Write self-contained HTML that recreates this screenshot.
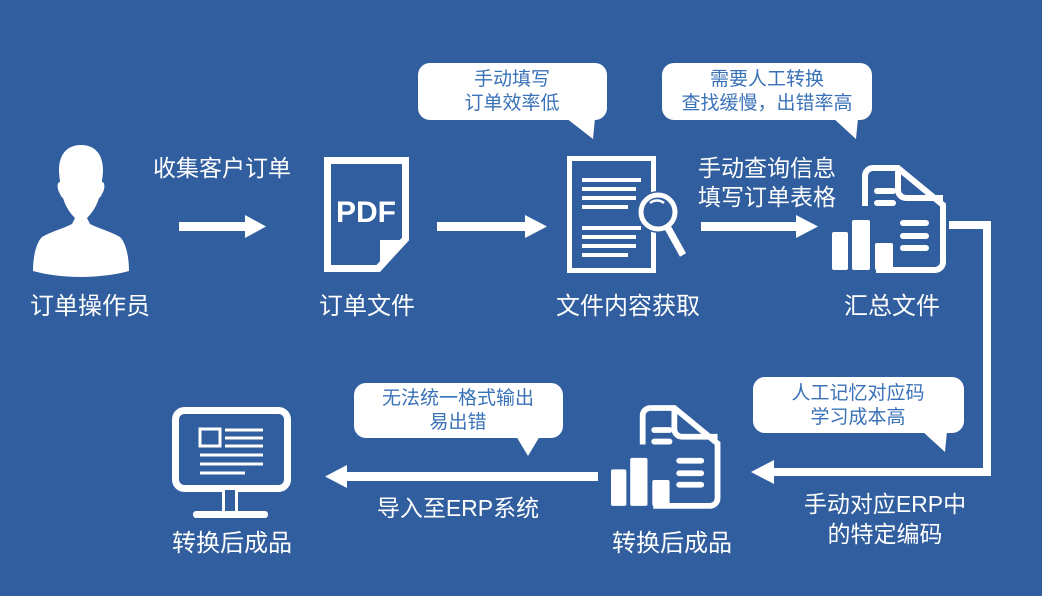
<!DOCTYPE html>
<html><head><meta charset="utf-8"><style>
html,body{margin:0;padding:0;background:#315E9F;}
svg{display:block}
text{font-family:"Liberation Sans","Noto Sans CJK SC",sans-serif;}
</style></head><body>
<svg width="1042" height="596" viewBox="0 0 1042 596" xmlns="http://www.w3.org/2000/svg">
<rect width="1042" height="596" fill="#315E9F"/>
<defs>
<g id="sum">
  <path d="M873,168 H898 L943,205 V262 a8,8 0 0 1 -8,8 H876" fill="none" stroke="#fff" stroke-width="6"/>
  <path d="M873,168 a8,8 0 0 0 -8,8 V206" fill="none" stroke="#fff" stroke-width="6"/>
  <path d="M898,168 V190 a8,8 0 0 0 8,8 H943" fill="none" stroke="#fff" stroke-width="6"/>
  <g stroke="#fff" stroke-width="6" stroke-linecap="round">
    <line x1="877" y1="191" x2="893" y2="191"/><line x1="877" y1="203" x2="893" y2="203"/>
    <line x1="903" y1="223" x2="926" y2="223"/><line x1="903" y1="236" x2="926" y2="236"/><line x1="903" y1="248" x2="926" y2="248"/>
  </g>
  <rect x="832" y="232" width="16" height="38" rx="2" fill="#fff"/>
  <rect x="852" y="220" width="18" height="50" rx="2" fill="#fff"/>
  <rect x="875" y="243" width="18" height="27" rx="2" fill="#fff"/>
</g>
</defs>

<!-- person -->
<path d="M81,145 c-16,0 -22,12 -22,25 c0,5 1,10 1,12 c-3,0 -3,6 -1,10 c2,4 3,6 4,6 c3,10 8,16 12,20 l-3,6 c-10,5 -22,8 -30,13 c-6,6 -9,20 -9,34 c14,4 32,6 48,6 c16,0 34,-2 48,-6 c0,-14 -3,-28 -9,-34 c-8,-5 -20,-8 -30,-13 l-3,-6 c4,-4 9,-10 12,-20 c1,0 2,-2 4,-6 c2,-4 2,-10 -1,-10 c0,-2 1,-7 1,-12 c0,-13 -6,-25 -22,-25z" fill="#fff"/>
<text x="90" y="314" font-size="24" fill="#fff" text-anchor="middle">订单操作员</text>
<text x="222" y="176" font-size="23" fill="#fff" text-anchor="middle">收集客户订单</text>
<rect x="179" y="222" width="68" height="9" fill="#fff"/><path d="M245,215 L266,226.5 L245,238z" fill="#fff"/>

<!-- PDF -->
<path d="M327.5,160.5 H405.5 V239 L378,268.5 H327.5z" fill="none" stroke="#fff" stroke-width="7"/>
<path d="M380,240 H409 L380,272z" fill="#fff"/>
<text x="366" y="222" font-size="30" font-weight="bold" fill="#fff" text-anchor="middle">PDF</text>
<text x="367" y="314" font-size="24" fill="#fff" text-anchor="middle">订单文件</text>
<rect x="437" y="222" width="90" height="9" fill="#fff"/><path d="M525,215 L547,226.5 L525,238z" fill="#fff"/>

<!-- doc magnifier -->
<rect x="569.5" y="158.5" width="84" height="112" fill="none" stroke="#fff" stroke-width="5"/>
<g stroke="#fff" stroke-width="4">
<line x1="582" y1="180" x2="641" y2="180"/><line x1="582" y1="189" x2="636" y2="189"/><line x1="582" y1="198" x2="636" y2="198"/><line x1="582" y1="207" x2="628" y2="207"/>
<line x1="582" y1="228" x2="641" y2="228"/><line x1="582" y1="237" x2="636" y2="237"/><line x1="582" y1="246" x2="636" y2="246"/><line x1="582" y1="255" x2="628" y2="255"/>
</g>
<circle cx="658" cy="212" r="21" fill="#315E9F"/>
<circle cx="658" cy="212" r="17" fill="none" stroke="#fff" stroke-width="5"/>
<path d="M650,203 a11,11 0 0 1 14,0" fill="none" stroke="#fff" stroke-width="2.5"/>
<line x1="668" y1="228" x2="683" y2="255" stroke="#fff" stroke-width="7"/>
<text x="628" y="314" font-size="24" fill="#fff" text-anchor="middle">文件内容获取</text>

<rect x="418" y="63" width="189" height="57" rx="12" fill="#fff"/>
<path d="M566,118 L593,139 L595,118z" fill="#fff"/>
<g font-size="19" fill="#3A72B8" text-anchor="middle"><text x="512" y="85">手动填写</text><text x="512" y="109">订单效率低</text></g>
<rect x="662" y="63" width="210" height="57" rx="12" fill="#fff"/>
<path d="M833,118 L856,139 L858,118z" fill="#fff"/>
<g font-size="19" fill="#3A72B8" text-anchor="middle"><text x="767" y="85">需要人工转换</text><text x="767" y="109">查找缓慢，出错率高</text></g>

<g font-size="23" fill="#fff" text-anchor="middle"><text x="767" y="176">手动查询信息</text><text x="767" y="205">填写订单表格</text></g>
<rect x="701" y="222" width="97" height="9" fill="#fff"/><path d="M796,215 L818,226.5 L796,238z" fill="#fff"/>

<use href="#sum"/>
<text x="892" y="314" font-size="24" fill="#fff" text-anchor="middle">汇总文件</text>

<path d="M949,225 H987 V472 H772" fill="none" stroke="#fff" stroke-width="8"/>
<path d="M774,460 L751,472 L774,484z" fill="#fff"/>

<rect x="753" y="377" width="211" height="56" rx="12" fill="#fff"/>
<path d="M922,431 L945,452 L947,431z" fill="#fff"/>
<g font-size="19" fill="#3A72B8" text-anchor="middle"><text x="858" y="399">人工记忆对应码</text><text x="858" y="423">学习成本高</text></g>
<g font-size="23" fill="#fff" text-anchor="middle"><text x="885" y="512">手动对应ERP中</text><text x="885" y="542">的特定编码</text></g>

<use href="#sum" transform="translate(-221,240) translate(832,167) scale(0.96) translate(-832,-167)"/>
<text x="672" y="551" font-size="24" fill="#fff" text-anchor="middle">转换后成品</text>

<rect x="344" y="472" width="254" height="9" fill="#fff"/><path d="M347,465 L325,476.5 L347,488z" fill="#fff"/>
<text x="458" y="516" font-size="23" fill="#fff" text-anchor="middle">导入至ERP系统</text>
<rect x="354" y="383" width="209" height="55" rx="12" fill="#fff"/>
<path d="M516,436 L528,456 L540,436z" fill="#fff"/>
<g font-size="19" fill="#3A72B8" text-anchor="middle"><text x="458" y="404">无法统一格式输出</text><text x="458" y="428">易出错</text></g>

<rect x="175.5" y="410.5" width="112" height="78" rx="9" fill="none" stroke="#fff" stroke-width="7"/>
<rect x="200" y="429" width="20" height="17" fill="none" stroke="#fff" stroke-width="3"/>
<g stroke="#fff" stroke-width="3"><line x1="225" y1="430" x2="263" y2="430"/><line x1="225" y1="438" x2="263" y2="438"/><line x1="225" y1="446" x2="263" y2="446"/><line x1="200" y1="455" x2="263" y2="455"/><line x1="200" y1="464" x2="263" y2="464"/><line x1="200" y1="473" x2="245" y2="473"/></g>
<rect x="222" y="490" width="16" height="22" fill="#315E9F"/>
<line x1="223.5" y1="490" x2="223.5" y2="512" stroke="#fff" stroke-width="3"/>
<line x1="236.5" y1="490" x2="236.5" y2="512" stroke="#fff" stroke-width="3"/>
<rect x="193" y="511" width="75" height="7" rx="3" fill="#fff"/>
<text x="232" y="551" font-size="24" fill="#fff" text-anchor="middle">转换后成品</text>
</svg>
</body></html>
